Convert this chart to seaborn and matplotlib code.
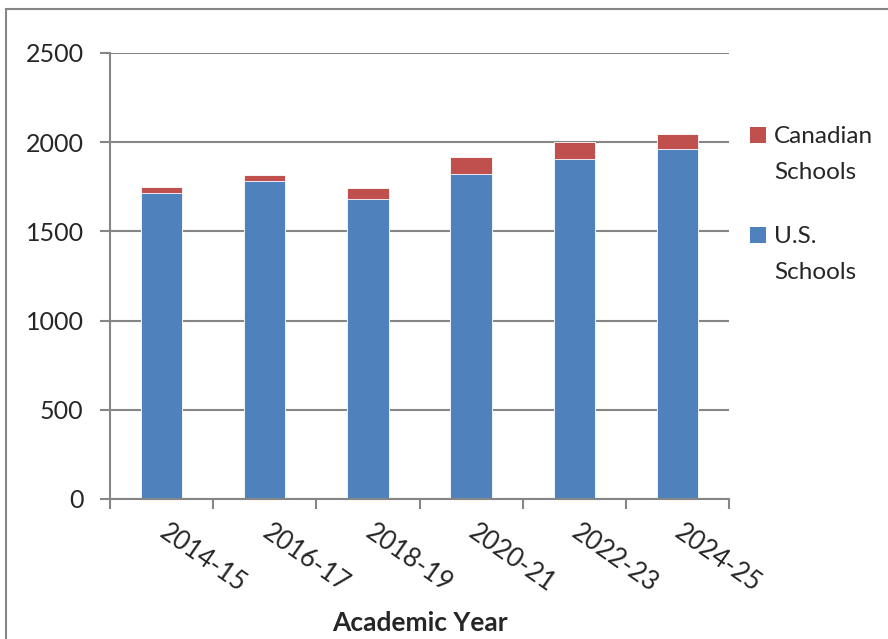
import pandas as pd
import matplotlib.pyplot as plt
import seaborn as sns
from matplotlib.patches import Rectangle

# Chart values
years = ['2014-15', '2016-17', '2018-19', '2020-21', '2022-23', '2024-25']
us_schools = [1713, 1781, 1682, 1823, 1904, 1960]
canadian_schools = [36, 33, 61, 94, 97, 88]
legend_labels = ['Canadian\nSchools', 'U.S.\nSchools']

df = pd.DataFrame({'Year': years, 'US': us_schools, 'Canada': canadian_schools})
df['Total'] = df['US'] + df['Canada']

sns.set_style('white')
plt.rcParams['font.family'] = ['Lato', 'DejaVu Sans']

blue = '#4F81BD'
red = '#C0504D'
grid_col = '#868686'
W, H = 888, 639

fig = plt.figure(figsize=(8.88, 6.39), dpi=100)
ax = fig.add_axes([110 / W, 1 - 499 / H, (729 - 110) / W, (499 - 53) / H])

# stacked bars: total (red) behind, U.S. (blue) in front
sns.barplot(data=df, x='Year', y='Total', color=red, width=0.4, saturation=1,
            edgecolor='white', linewidth=0.6, ax=ax)
sns.barplot(data=df, x='Year', y='US', color=blue, width=0.4, saturation=1,
            edgecolor='white', linewidth=0.6, ax=ax)

ax.set_ylim(0, 2500)
ax.set_xlim(-0.5, 5.5)
ax.set_yticks([0, 500, 1000, 1500, 2000, 2500])
ax.yaxis.grid(True, color=grid_col, linewidth=1.5)
ax.set_axisbelow(True)

for s in ['top', 'right']:
    ax.spines[s].set_visible(False)
for s in ['left', 'bottom']:
    ax.spines[s].set_color(grid_col)
    ax.spines[s].set_linewidth(1.5)

ax.tick_params(axis='y', which='major', left=True, length=7, width=1.5,
               color=grid_col, labelsize=18, pad=12)
ax.tick_params(axis='x', which='major', length=0, labelsize=18.5, pad=22)
ax.set_xticks([i + 0.5 for i in range(-1, 6)], minor=True)
ax.tick_params(axis='x', which='minor', bottom=True, length=7, width=1.5, color=grid_col)
for lbl in ax.get_xticklabels():
    lbl.set_rotation(-35)
    lbl.set_ha('left')
    lbl.set_va('center')
    lbl.set_rotation_mode('anchor')

ax.set_ylabel('')
ax.set_xlabel('Academic Year', fontsize=19, fontweight='bold', labelpad=10)

# legend, drawn to match the two-line layout of the original
for color, label, sq_top, base in [(red, legend_labels[0], 127, 143),
                                    (blue, legend_labels[1], 227, 243)]:
    fig.add_artist(Rectangle((750 / W, 1 - (sq_top + 16) / H), 16 / W, 16 / H,
                             transform=fig.transFigure, facecolor=color, edgecolor='none'))
    line1, line2 = label.split('\n')
    fig.text(774 / W, 1 - base / H, line1, fontsize=17.5, va='baseline', ha='left')
    fig.text(774 / W, 1 - (base + 36) / H, line2, fontsize=17.5, va='baseline', ha='left')

# outer chart border
fig.add_artist(Rectangle((6 / W, -0.01), 0.999, 1 - 9 / H + 0.01,
                         transform=fig.transFigure, fill=False,
                         edgecolor=grid_col, linewidth=1.5))

fig.savefig('out.png', dpi=100)
